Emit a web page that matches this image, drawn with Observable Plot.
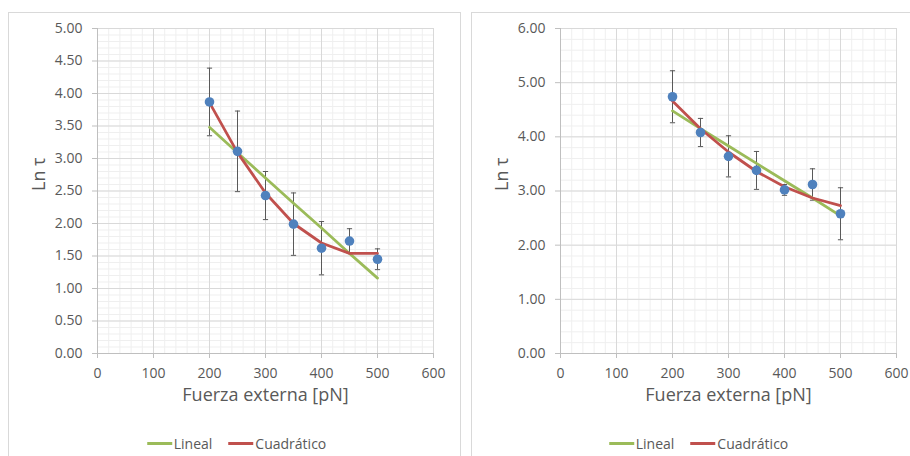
<!DOCTYPE html>
<html><head><meta charset="utf-8">
<script src="https://cdn.jsdelivr.net/npm/d3@7"></script>
<script src="https://cdn.jsdelivr.net/npm/@observablehq/plot@0.6"></script>
<style>
html,body{margin:0;padding:0;background:#fff;overflow:hidden;width:910px;height:456px;}
body{position:relative;font-family:"Open Sans",sans-serif;}
.frame{position:absolute;top:12px;height:470px;border:1px solid #d9d9d9;box-sizing:border-box;background:#fff;}
.chart{position:absolute;top:12px;width:452px;height:410px;}
.chart svg{max-width:none !important;}
.legend{position:absolute;top:433px;height:20px;display:flex;align-items:center;font-size:14px;color:#595959;white-space:nowrap;transform:translateX(-50%);}
.legend .item{display:flex;align-items:center;}
.legend .sw{display:inline-block;width:25px;height:3px;margin-right:2px;}
</style>
</head><body>
<script>
// ---- data ----
const forces = [200, 250, 300, 350, 400, 450, 500];
// Left chart
const lnTauA   = [3.87, 3.11, 2.43, 1.99, 1.62, 1.73, 1.45];
const errA     = [0.52, 0.62, 0.37, 0.48, 0.41, 0.19, 0.16];
const linealA  = [3.48, 3.09, 2.70, 2.31, 1.93, 1.54, 1.16];
const cuadA    = [3.86, 3.09, 2.47, 2.00, 1.70, 1.54, 1.54];
// Right chart
const lnTauB   = [4.74, 4.08, 3.64, 3.38, 3.02, 3.12, 2.58];
const errB     = [0.48, 0.26, 0.38, 0.35, 0.10, 0.29, 0.48];
const linealB  = [4.48, 4.15, 3.83, 3.51, 3.19, 2.87, 2.54];
const cuadB    = [4.66, 4.15, 3.72, 3.36, 3.08, 2.87, 2.73];
// ticks
const xTicks   = [0, 100, 200, 300, 400, 500, 600];
const xMinor   = [0,20,40,60,80,100,120,140,160,180,200,220,240,260,280,300,320,340,360,380,400,420,440,460,480,500,520,540,560,580,600];
const yTicksA  = [0, 0.5, 1, 1.5, 2, 2.5, 3, 3.5, 4, 4.5, 5];
const yMinorA  = d3.range(0, 51).map(i => i / 10);
const yTicksB  = [0, 1, 2, 3, 4, 5, 6];
const yMinorB  = d3.range(0, 31).map(i => i / 5);
const xTitle = "Fuerza externa [pN]";
const yTitle = "Ln τ";
const seriesNames = ["Lineal", "Cuadrático"];

const C = {blue: "#4F81BD", green: "#9BBB59", red: "#C0504D", text: "#595959", axis: "#bfbfbf", grid: "#d9d9d9", minor: "#efefef", err: "#595959"};
const FONT = '"Open Sans", sans-serif';

const capSymbol = {
  draw(ctx, size) { const r = Math.sqrt(size / Math.PI); ctx.moveTo(-r, 0); ctx.lineTo(r, 0); }
};

function makeChart(y, err, lin, cuad, yMax, yTicks, yMinor) {
  const rows = forces.map((x, i) => ({x, y: y[i], e: err[i], lin: lin[i], cuad: cuad[i]}));
  return Plot.plot({
    width: 452, height: 410,
    marginLeft: 89, marginRight: 27, marginTop: 16, marginBottom: 69,
    x: {domain: [0, 600]},
    y: {domain: [0, yMax]},
    style: {fontFamily: FONT, fontSize: "14px", color: C.text, background: "transparent", overflow: "visible", maxWidth: "none"},
    marks: [
      Plot.gridX(xMinor, {stroke: C.minor, strokeOpacity: 1}),
      Plot.gridY(yMinor, {stroke: C.minor, strokeOpacity: 1}),
      Plot.gridX(xTicks, {stroke: C.grid, strokeOpacity: 1}),
      Plot.gridY(yTicks, {stroke: C.grid, strokeOpacity: 1}),
      Plot.ruleX([0], {stroke: C.axis}),
      Plot.ruleY([0], {stroke: C.axis}),
      Plot.axisX(xTicks, {tickSize: 5, tickPadding: 10, stroke: C.axis, fill: C.text, label: null, tickFormat: d => String(d), fontSize: 14}),
      Plot.axisY(yTicks, {tickSize: 5, tickPadding: 10, stroke: C.axis, fill: C.text, label: null, tickFormat: d => d.toFixed(2), fontSize: 14}),
      Plot.text([xTitle], {text: d => d, frameAnchor: "bottom", dy: 47, fontSize: 18, fill: C.text}),
      Plot.text([yTitle], {text: d => d, frameAnchor: "left", dx: -58, rotate: -90, fontSize: 18, fill: C.text}),
      Plot.ruleX(rows, {x: "x", y1: d => d.y - d.e, y2: d => d.y + d.e, stroke: C.err, strokeWidth: 1}),
      Plot.dot(rows, {x: "x", y: d => d.y + d.e, symbol: capSymbol, r: 2.6, stroke: C.err, strokeWidth: 1, fill: "none"}),
      Plot.dot(rows, {x: "x", y: d => d.y - d.e, symbol: capSymbol, r: 2.6, stroke: C.err, strokeWidth: 1, fill: "none"}),
      Plot.line(rows, {x: "x", y: "lin", stroke: C.green, strokeWidth: 2.75}),
      Plot.line(rows, {x: "x", y: "cuad", stroke: C.red, strokeWidth: 2.75}),
      Plot.dot(rows, {x: "x", y: "y", r: 4.8, fill: C.blue, stroke: "none"})
    ]
  });
}

function addFrame(left, width) {
  const f = document.createElement("div");
  f.className = "frame"; f.style.left = left + "px"; f.style.width = width + "px";
  document.body.appendChild(f);
}
function addChart(left, svg) {
  const w = document.createElement("div");
  w.className = "chart"; w.style.left = left + "px";
  w.appendChild(svg);
  document.body.appendChild(w);
}
function addLegend(center) {
  const lg = document.createElement("div");
  lg.className = "legend"; lg.style.left = center + "px";
  const cols = [C.green, C.red];
  seriesNames.forEach((n, i) => {
    const it = document.createElement("span"); it.className = "item";
    if (i > 0) it.style.marginLeft = "16px";
    const sw = document.createElement("span"); sw.className = "sw"; sw.style.background = cols[i];
    it.appendChild(sw);
    it.appendChild(document.createTextNode(n));
    lg.appendChild(it);
  });
  document.body.appendChild(lg);
}

addFrame(8, 453);
addFrame(471, 460);
addChart(8, makeChart(lnTauA, errA, linealA, cuadA, 5, yTicksA, yMinorA));
addChart(471, makeChart(lnTauB, errB, linealB, cuadB, 6, yTicksB, yMinorB));
addLegend(236.5);
addLegend(698.5);
</script>
</body></html>
